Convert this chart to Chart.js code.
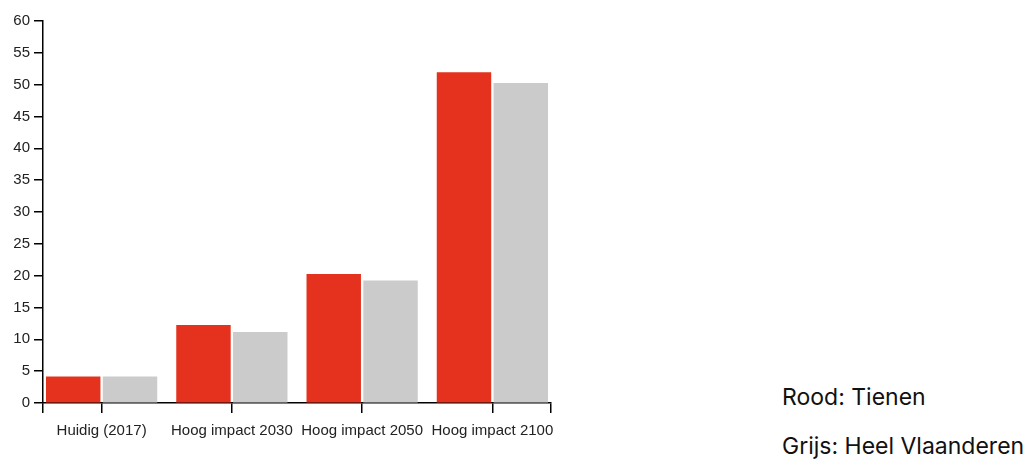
<!DOCTYPE html>
<html>
<head>
<meta charset="utf-8">
<script src="https://cdn.jsdelivr.net/npm/chart.js@4/dist/chart.umd.min.js"></script>
<style>
  body { margin: 0; background: #fff; width: 1035px; height: 459px; position: relative; overflow: hidden; }
  #wrap { position: absolute; left: 0; top: 0; width: 560px; height: 459px; }
  .note { position: absolute; left: 782px; font-family: Inter, "Noto Sans", sans-serif; font-size: 23px; color: #111; line-height: 1; white-space: nowrap; }
</style>
</head>
<body>
<div id="wrap"><canvas id="chart"></canvas></div>
<div class="note" style="top: 386px;">Rood: Tienen</div>
<div class="note" style="top: 435px;">Grijs: Heel Vlaanderen</div>
<script>
const categories = ["Huidig (2017)", "Hoog impact 2030", "Hoog impact 2050", "Hoog impact 2100"];
const tienen = [4.1, 12.2, 20.2, 51.9];
const vlaanderen = [4.1, 11.1, 19.2, 50.2];
const yTicks = [0, 5, 10, 15, 20, 25, 30, 35, 40, 45, 50, 55, 60];

const axisFont = { family: "'Liberation Sans', Arial, sans-serif", size: 15 };

// x is a linear scale so the outer domain ends can carry their own ticks, like the d3 axis
const xMin = -0.45;
const xMax = categories.length - 1 + 0.45;

const ctx = document.getElementById("chart").getContext("2d");
new Chart(ctx, {
  type: "bar",
  data: {
    datasets: [
      {
        label: "Tienen",
        data: tienen.map((v, i) => ({ x: i, y: v })),
        backgroundColor: "#e5321f"
      },
      {
        label: "Heel Vlaanderen",
        data: vlaanderen.map((v, i) => ({ x: i, y: v })),
        backgroundColor: "#cbcbcb"
      }
    ]
  },
  options: {
    responsive: true,
    maintainAspectRatio: false,
    animation: false,
    barThickness: "flex",
    categoryPercentage: 0.872,
    barPercentage: 0.947,
    layout: { padding: { top: 21, right: 5, left: 0, bottom: 0 } },
    plugins: { legend: { display: false }, tooltip: { enabled: false } },
    scales: {
      x: {
        type: "linear",
        offset: false,
        min: xMin,
        max: xMax,
        afterBuildTicks: s => {
          s.ticks = [xMin, ...categories.map((c, i) => i), xMax].map(v => ({ value: v }));
        },
        afterFit: s => { s.height = 56; },
        border: { display: true, color: "#000", width: 1.5 },
        grid: { display: true, offset: false, drawOnChartArea: false, drawTicks: true, tickLength: 10, color: "#000", lineWidth: 1.5 },
        ticks: {
          autoSkip: false,
          maxRotation: 0,
          padding: 9,
          color: "#222",
          font: axisFont,
          callback: v => Number.isInteger(v) ? categories[v] : ""
        }
      },
      y: {
        min: 0,
        max: 60,
        afterBuildTicks: s => { s.ticks = yTicks.map(v => ({ value: v })); },
        afterFit: s => { s.width = 43; },
        border: { display: true, color: "#000", width: 1.5 },
        grid: { display: true, drawOnChartArea: false, drawTicks: true, tickLength: 9, color: "#000", lineWidth: 1.5 },
        ticks: { padding: 4, color: "#222", font: axisFont }
      }
    }
  }
});
</script>
</body>
</html>
